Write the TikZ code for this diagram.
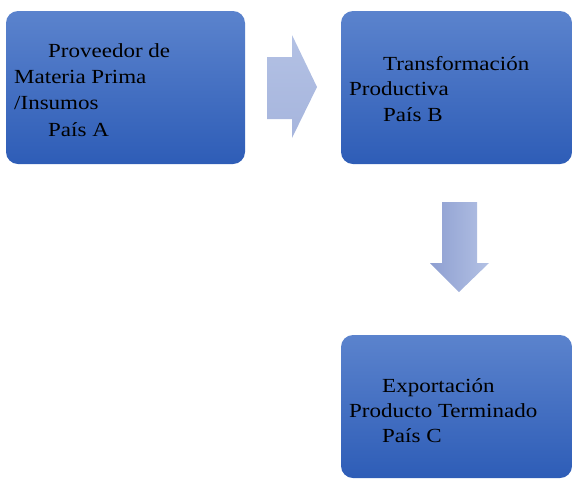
\documentclass[tikz,border=0pt]{standalone}
\usepackage{fontspec}
\newfontfamily\lblfont[FakeStretch=1.15]{Liberation Serif}
\definecolor{boxtop}{HTML}{5B83CD}
\definecolor{boxbot}{HTML}{2E5DB7}
\definecolor{arrA}{HTML}{8E9FD1}
\definecolor{arrB}{HTML}{B3C1E4}
\definecolor{arrC}{HTML}{A6B5DD}
\tikzset{
  procbox/.style={rounded corners=12pt, top color=boxtop, bottom color=boxbot, draw=none},
  lbl/.style={anchor=base west, inner sep=0pt, font=\lblfont\fontsize{20}{24}\selectfont, text=black},
}
\begin{document}
\begin{tikzpicture}[x=1pt,y=-1pt]
\useasboundingbox (0,0) rectangle (573,483);
% boxes
\path[procbox] (6,11) rectangle (245,164);
\path[procbox] (341,11) rectangle (572,164);
\path[procbox] (341,335) rectangle (572,478);
% arrows
\path[top color=arrB, bottom color=arrC] (267,57) -- (292,57) -- (292,35) -- (317,87) -- (292,138) -- (292,119) -- (267,119) -- cycle;
\path[left color=arrA, right color=arrB] (442,202) -- (477,202) -- (477,263) -- (489,263) -- (459,292) -- (430,263) -- (442,263) -- cycle;
% texts
\node[lbl] (a1) at (48,57) {Proveedor de};
\node[lbl] (a2) at (14,83) {Materia Prima};
\node[lbl] (a3) at (14,109) {/Insumos};
\node[lbl] (a4) at (48,136) {País A};
\node[lbl] (b1) at (383,70) {Transformación};
\node[lbl] (b2) at (349,95) {Productiva};
\node[lbl] (b3) at (383,121) {País B};
\node[lbl] (c1) at (382,392) {Exportación};
\node[lbl] (c2) at (349,417) {Producto Terminado};
\node[lbl] (c3) at (382,442) {País C};
\end{tikzpicture}
\end{document}
